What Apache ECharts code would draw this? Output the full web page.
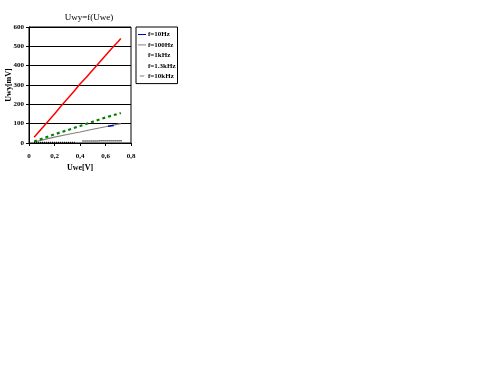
<!DOCTYPE html>
<html><head><meta charset="utf-8">
<script src="https://cdn.jsdelivr.net/npm/echarts@6/dist/echarts.min.js"></script>
<style>html,body{margin:0;padding:0;background:#fff}#c{width:498px;height:373px}</style>
</head><body><div id="c"></div>
<script>
var titleText = 'Uwy=f(Uwe)';
var xName = 'Uwe[V]';
var yName = 'Uwy[mV]';
var seriesNames = ['f=10Hz','f=100Hz','f=1kHz','f=1.3kHz','f=10kHz'];
var s10Hz = [[0.62,87],[0.665,90]];
var s100Hz = [[0.04,5],[0.1,15],[0.2,30],[0.3,44],[0.4,57],[0.5,71],[0.6,84],[0.65,91],[0.72,100]];
var s1kHz = [[0.04,30],[0.1,75],[0.15,112],[0.2,150],[0.25,190],[0.3,228],[0.35,265],[0.4,305],[0.45,340],[0.5,378],[0.55,415],[0.6,452],[0.65,490],[0.7,525],[0.72,540]];
var s13kHz = [[0.04,8],[0.1,22],[0.2,45],[0.3,66],[0.4,88],[0.5,110],[0.6,132],[0.72,155]];
var s10kHz = [[0.04,3],[0.2,3],[0.36,3],null,[0.42,10],[0.55,11],[0.73,12]];

var font = '"Liberation Serif", "Times New Roman", serif';
var dotIcon = 'path://M0,0h1v1h-1zM2,0h1v1h-1zM4,0h1v1h-1zM6,0h1v1h-1zM8,0h1v1h-1zM1,1h1v1h-1zM3,1h1v1h-1zM5,1h1v1h-1zM7,1h1v1h-1z';
var chart = echarts.init(document.getElementById('c'), null, {renderer:'canvas'});
chart.setOption({
  animation:false,
  title:{text:titleText,left:84,top:8,textAlign:'center',textStyle:{fontFamily:font,fontSize:9,fontWeight:'normal',color:'#000'}},
  grid:{left:29,top:27,width:102,height:116,show:true,borderColor:'#000',borderWidth:1,backgroundColor:'#fff'},
  xAxis:{type:'value',min:0,max:0.8,interval:0.2,name:xName,nameLocation:'middle',nameGap:21,nameMoveOverlap:false,
    nameTextStyle:{fontFamily:font,fontSize:8,fontWeight:'bold',color:'#000'},
    axisLine:{onZero:false,lineStyle:{color:'#000',width:1}},
    axisTick:{show:true,inside:false,length:3,lineStyle:{color:'#000'}},
    splitLine:{show:false},
    axisLabel:{fontFamily:font,fontSize:7,fontWeight:'bold',color:'#000',margin:10,
      formatter:function(v){return String(v).replace('.',',');}}},
  yAxis:{type:'value',min:0,max:600,interval:100,name:yName,nameLocation:'middle',nameGap:16,nameRotate:90,nameMoveOverlap:false,
    nameTextStyle:{fontFamily:font,fontSize:8,fontWeight:'bold',color:'#000'},
    axisLine:{show:true,lineStyle:{color:'#000',width:1}},
    axisTick:{show:true,length:3,lineStyle:{color:'#000'}},
    splitLine:{show:true,lineStyle:{color:'#000',width:1}},
    axisLabel:{fontFamily:font,fontSize:7,fontWeight:'bold',color:'#000',margin:5}},
  legend:{orient:'vertical',left:136,top:27,width:39,itemWidth:8,itemHeight:1,itemGap:3.4,padding:[4,2,4,2],
    borderColor:'#000',borderWidth:1,backgroundColor:'#fff',
    textStyle:{fontFamily:font,fontSize:7,fontWeight:'bold',color:'#000',padding:[0,0,0,-3]},
    data:[
      {name:seriesNames[0],icon:'rect',itemStyle:{color:'#0000cc'}},
      {name:seriesNames[1],icon:'rect',itemStyle:{color:'#808080'}},
      {name:seriesNames[2],icon:'rect',itemStyle:{color:'rgba(0,0,0,0)'}},
      {name:seriesNames[3],icon:'rect',itemStyle:{color:'rgba(0,0,0,0)'}},
      {name:seriesNames[4],icon:dotIcon,itemHeight:2,itemStyle:{color:'#000'}}
    ]},
  series:[
    {name:seriesNames[1],type:'line',data:s100Hz,showSymbol:false,lineStyle:{color:'#808080',width:1.2},itemStyle:{color:'#808080'},z:2},
    {name:seriesNames[0],type:'line',data:s10Hz,showSymbol:false,lineStyle:{color:'#0000cc',width:1.5},itemStyle:{color:'#0000cc'},z:3},
    {name:seriesNames[2],type:'line',data:s1kHz,showSymbol:false,lineStyle:{color:'#ff0000',width:1.5},itemStyle:{color:'#ff0000'},z:4},
    {name:seriesNames[3],type:'line',data:s13kHz,showSymbol:false,lineStyle:{color:'#008000',width:2.2,type:[3,3]},itemStyle:{color:'#008000'},z:4},
    {name:seriesNames[4],type:'line',data:s10kHz,showSymbol:false,connectNulls:false,lineStyle:{color:'#000',width:1.5,type:[1,1]},itemStyle:{color:'#000'},z:4}
  ]
});
</script></body></html>
